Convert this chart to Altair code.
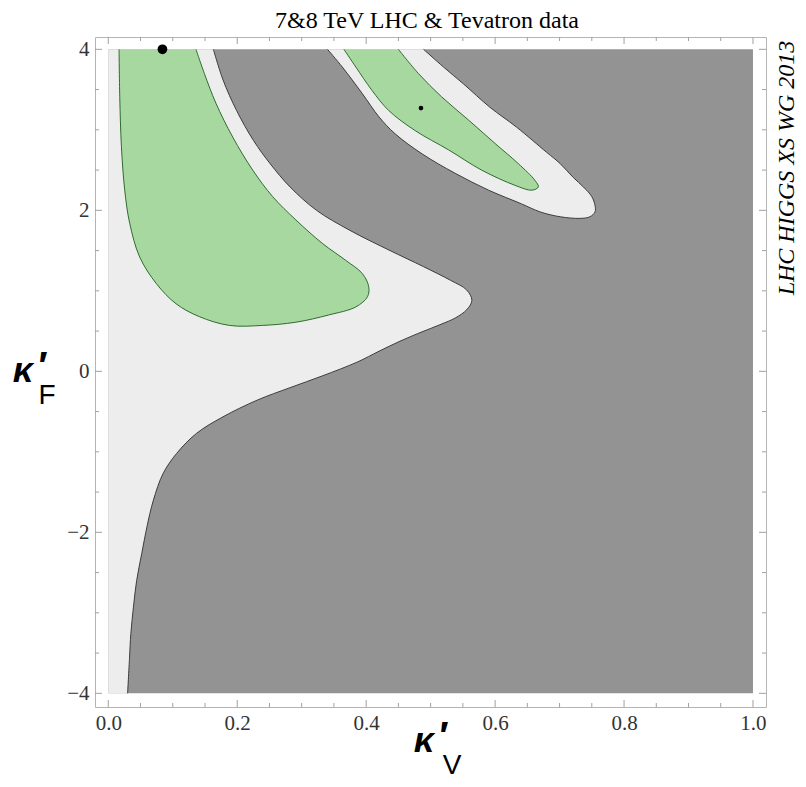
import altair as alt
import pandas as pd

# ---------------- data ----------------
title_text = ["7&8 TeV LHC & Tevatron data"]
side_text = ["LHC HIGGS XS WG 2013"]

# data domain of the contour plot
box_x = [0.0]
box_x2 = [1.0]
box_y = [-4.0]
box_y2 = [4.0]

# boundary between light (allowed at 95%) and dark grey region, top -> bottom
gray_edge_x = [0.163, 0.178, 0.199, 0.225, 0.251, 0.282, 0.323, 0.375, 0.437, 0.489,
               0.531, 0.556, 0.564, 0.556, 0.539, 0.5145, 0.4835, 0.4525, 0.420, 0.386,
               0.333, 0.282, 0.231, 0.178, 0.137, 0.106, 0.085, 0.070, 0.060, 0.052,
               0.044, 0.039, 0.035, 0.033, 0.030]
gray_edge_y = [4.0, 3.62, 3.24, 2.87, 2.58, 2.29, 2.00, 1.75, 1.50, 1.30,
               1.13, 1.01, 0.88, 0.766, 0.666, 0.579, 0.480, 0.374, 0.250, 0.114,
               -0.054, -0.203, -0.358, -0.565, -0.77, -1.02, -1.27, -1.60, -1.93, -2.26,
               -2.60, -2.93, -3.26, -3.55, -4.0]
# corners closing the left light region along the edge of the data domain
light_left_close_x = [0.030, 0.030, 0.0, 0.0, 0.0, 0.0, 0.0, 0.0, 0.163, 0.163]
light_left_close_y = [-4.0, -4.0, -4.0, -4.0, -4.0, 4.0, 4.0, 4.0, 4.0, 4.0]

# left green (68%) region
green_a_x = [0.0167, 0.0178, 0.0204, 0.0255, 0.0332, 0.0487, 0.0745, 0.105, 0.141, 0.188,
             0.239, 0.291, 0.342, 0.384, 0.402, 0.404, 0.394, 0.368, 0.332, 0.291,
             0.255, 0.224, 0.193, 0.167, 0.149, 0.136]
green_a_y = [4.0, 3.41, 2.79, 2.25, 1.84, 1.42, 1.09, 0.84, 0.68, 0.57,
             0.57, 0.61, 0.70, 0.80, 0.925, 1.05, 1.215, 1.38, 1.59, 1.88,
             2.17, 2.50, 2.91, 3.33, 3.70, 4.0]

# upper light (95%) band
light_b_x = [0.340, 0.363, 0.394, 0.420, 0.445, 0.487, 0.538, 0.590, 0.641, 0.670,
             0.701, 0.732, 0.747, 0.755, 0.755, 0.750, 0.737, 0.721, 0.701, 0.680,
             0.633, 0.592, 0.551, 0.520, 0.489]
light_b_y = [4.0, 3.78, 3.45, 3.16, 2.95, 2.70, 2.46, 2.25, 2.08, 1.98,
             1.92, 1.90, 1.92, 1.98, 2.06, 2.17, 2.29, 2.41, 2.58, 2.72,
             3.035, 3.28, 3.57, 3.78, 4.0]

# upper green (68%) band
green_b_x = [0.3655, 0.384, 0.409, 0.435, 0.476, 0.528, 0.579, 0.631, 0.657, 0.667,
             0.662, 0.636, 0.600, 0.559, 0.517, 0.481, 0.450]
green_b_y = [4.0, 3.78, 3.49, 3.24, 2.99, 2.75, 2.50, 2.31, 2.25, 2.29,
             2.37, 2.58, 2.83, 3.12, 3.41, 3.70, 4.0]

# best fit points
best_x = [0.084]
best_y = [4.0]
local_x = [0.485]
local_y = [3.27]

# ticks
x_major = [0.0, 0.2, 0.4, 0.6, 0.8, 1.0]
x_minor = [0.05, 0.1, 0.15, 0.25, 0.3, 0.35, 0.45, 0.5, 0.55, 0.65, 0.7, 0.75, 0.85, 0.9, 0.95]
y_major = [-4, -2, 0, 2, 4]
y_minor = [-3.5, -3, -2.5, -1.5, -1, -0.5, 0.5, 1, 1.5, 2.5, 3, 3.5]

# ---------------- styling ----------------
W, H = 671, 670
X_DOMAIN = [-0.0206, 1.0202]
Y_DOMAIN = [-4.17, 4.153]
DARK = "#939393"
LIGHT = "#ededed"
GREEN = "#a7d8a0"
FRAME = "#b4b4b4"
TICK = "#a0a0a0"
CURVE = "catmull-rom"

xs = alt.Scale(domain=X_DOMAIN, nice=False, zero=False)
ys = alt.Scale(domain=Y_DOMAIN, nice=False, zero=False)
x_axis = alt.Axis(values=x_major, format=".1f", ticks=False, tickSize=0, domain=False, grid=False,
                  labelFont="Liberation Serif", labelFontSize=21, labelColor="#333333",
                  labelPadding=5, title=None)
y_axis = alt.Axis(values=y_major, format="d", ticks=False, tickSize=0, domain=False, grid=False,
                  labelFont="Liberation Serif", labelFontSize=21, labelColor="#333333",
                  labelPadding=6, title=None)


def X(field):
    return alt.X(field, type="quantitative", scale=xs, axis=x_axis)


def Y(field):
    return alt.Y(field, type="quantitative", scale=ys, axis=y_axis)


def poly(xv, yv):
    return pd.DataFrame({"x": xv, "y": yv, "i": list(range(len(xv)))})


box = alt.Chart(pd.DataFrame({"x": box_x, "x2": box_x2, "y": box_y, "y2": box_y2})).mark_rect(
    color=DARK).encode(x=X("x"), x2="x2", y=Y("y"), y2="y2")

light_a_df = poly(gray_edge_x + light_left_close_x, gray_edge_y + light_left_close_y)
light_a = alt.Chart(light_a_df).mark_line(fill=LIGHT, strokeWidth=0, interpolate=CURVE).encode(
    x=X("x"), y=Y("y"), order="i:Q")
gray_line = alt.Chart(poly(gray_edge_x, gray_edge_y)).mark_line(
    color="#3c3c3c", strokeWidth=1, interpolate=CURVE).encode(x=X("x"), y=Y("y"), order="i:Q")

light_b = alt.Chart(poly(light_b_x, light_b_y)).mark_line(
    fill=LIGHT, color="#3c3c3c", strokeWidth=1, interpolate=CURVE).encode(x=X("x"), y=Y("y"), order="i:Q")

green_a = alt.Chart(poly(green_a_x, green_a_y)).mark_line(
    fill=GREEN, color="#2f6b2f", strokeWidth=1, interpolate=CURVE).encode(x=X("x"), y=Y("y"), order="i:Q")
green_b = alt.Chart(poly(green_b_x, green_b_y)).mark_line(
    fill=GREEN, color="#2f6b2f", strokeWidth=1, interpolate=CURVE).encode(x=X("x"), y=Y("y"), order="i:Q")

best = alt.Chart(pd.DataFrame({"x": best_x, "y": best_y})).mark_circle(
    color="black", size=95, opacity=1).encode(x=X("x"), y=Y("y"))
local = alt.Chart(pd.DataFrame({"x": local_x, "y": local_y})).mark_circle(
    color="black", size=22, opacity=1).encode(x=X("x"), y=Y("y"))


def xticks(vals, length):
    df = pd.DataFrame({"v": vals})
    b = alt.Chart(df).mark_rule(color=TICK, strokeWidth=1).encode(
        x=X("v"), y=alt.value(H), y2=alt.value(H - length))
    t = alt.Chart(df).mark_rule(color=TICK, strokeWidth=1).encode(
        x=X("v"), y=alt.value(0), y2=alt.value(length))
    return b + t


def yticks(vals, length):
    df = pd.DataFrame({"v": vals})
    l = alt.Chart(df).mark_rule(color=TICK, strokeWidth=1).encode(
        y=Y("v"), x=alt.value(0), x2=alt.value(length))
    r = alt.Chart(df).mark_rule(color=TICK, strokeWidth=1).encode(
        y=Y("v"), x=alt.value(W), x2=alt.value(W - length))
    return l + r


ticks = xticks(x_major, 7) + xticks(x_minor, 4) + yticks(y_major, 7) + yticks(y_minor, 4)

title = alt.Chart(pd.DataFrame({"t": title_text})).mark_text(
    font="Liberation Serif", fontSize=24, color="black", align="center", baseline="alphabetic").encode(
    text="t:N", x=alt.value(332), y=alt.value(-9))
side = alt.Chart(pd.DataFrame({"t": side_text})).mark_text(
    font="Liberation Serif", fontSize=24, fontStyle="italic", color="black", angle=270,
    align="center", baseline="middle").encode(text="t:N", x=alt.value(692), y=alt.value(131))

kappa_sym = ["κ"]
prime_sym = ["′"]
sub_f = ["F"]
sub_v = ["V"]


def label_text(vals, x, y, size, weight="normal", style="normal"):
    return alt.Chart(pd.DataFrame({"t": vals})).mark_text(
        font="Liberation Sans", fontSize=size, fontWeight=weight, fontStyle=style, color="black",
        align="center", baseline="alphabetic").encode(text="t:N", x=alt.value(x), y=alt.value(y))


ytitle = (label_text(kappa_sym, -72, 345, 36, "bold", "italic")
          + label_text(prime_sym, -52, 342, 38, "bold")
          + label_text(sub_f, -48, 367, 28))
xtitle = (label_text(kappa_sym, 329, 715, 36, "bold", "italic")
          + label_text(prime_sym, 349, 712, 38, "bold")
          + label_text(sub_v, 357, 737, 28))

chart = alt.layer(
    box, light_a, gray_line, light_b, green_a, green_b, best, local, ticks,
    title, side, ytitle, xtitle
).properties(
    width=W, height=H,
    autosize=alt.AutoSizeParams(type="none"),
    padding={"left": 87, "top": 29, "right": 32, "bottom": 72},
    background="white",
).configure_view(stroke=FRAME, strokeWidth=1)

chart.save("out.html", embed_options={"renderer": "svg", "actions": False})
